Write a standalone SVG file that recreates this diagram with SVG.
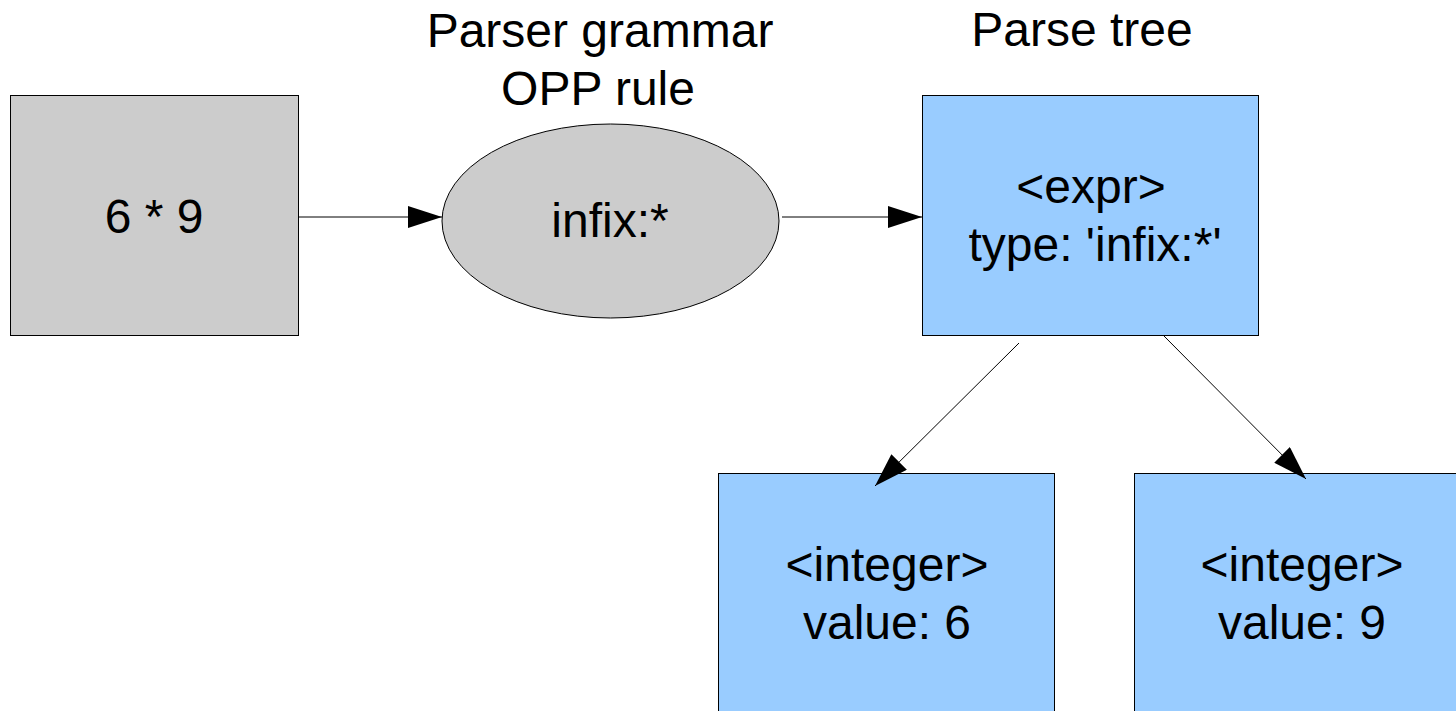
<svg xmlns="http://www.w3.org/2000/svg" width="1456" height="711" viewBox="0 0 1456 711">
  <style>
    .grey { fill: #cccccc; stroke: #000000; stroke-width: 1; }
    .blue { fill: #99ccff; stroke: #000000; stroke-width: 1; }
    .lbl { font-family: "Liberation Sans", Arial, sans-serif; font-size: 48px; fill: #000000; text-anchor: middle; }
    .edge { stroke: #000000; stroke-width: 1; fill: none; marker-end: url(#head); }
  </style>
  <defs>
    <marker id="head" markerUnits="userSpaceOnUse" markerWidth="34" markerHeight="22" refX="34" refY="11" orient="auto">
      <path d="M0,0 L34,11 L0,22 Z" fill="#000000"/>
    </marker>
  </defs>
  <rect width="1456" height="711" fill="#ffffff"/>

  <!-- captions -->
  <g id="captions">
    <text class="lbl" x="600" y="47">Parser grammar</text>
    <text class="lbl" x="598" y="105">OPP rule</text>
    <text class="lbl" x="1082" y="46">Parse tree</text>
  </g>

  <!-- input expression -->
  <g id="input">
    <rect class="grey" x="10.5" y="95.5" width="288" height="240"/>
    <text class="lbl" x="154" y="233">6 * 9</text>
  </g>

  <!-- grammar rule -->
  <g id="rule">
    <ellipse class="grey" cx="610.5" cy="221" rx="168.5" ry="97"/>
    <text class="lbl" x="610" y="237">infix:*</text>
  </g>

  <!-- parse tree root -->
  <g id="expr">
    <rect class="blue" x="922.5" y="95.5" width="336" height="240"/>
    <text class="lbl" x="1091" y="203">&lt;expr&gt;</text>
    <text class="lbl" x="1095" y="261">type: 'infix:*'</text>
  </g>

  <!-- parse tree leaves -->
  <g id="int6">
    <rect class="blue" x="718.5" y="473.5" width="336" height="260"/>
    <text class="lbl" x="887" y="581">&lt;integer&gt;</text>
    <text class="lbl" x="887" y="639">value: 6</text>
  </g>
  <g id="int9">
    <rect class="blue" x="1134.5" y="473.5" width="336" height="260"/>
    <text class="lbl" x="1302" y="581">&lt;integer&gt;</text>
    <text class="lbl" x="1302" y="639">value: 9</text>
  </g>

  <!-- connectors -->
  <g id="connectors">
    <line class="edge" x1="299" y1="217" x2="442" y2="217"/>
    <line class="edge" x1="782" y1="217" x2="922" y2="217"/>
    <line class="edge" x1="1019" y1="343" x2="875" y2="486"/>
    <line class="edge" x1="1163" y1="335" x2="1306" y2="479"/>
  </g>
</svg>
